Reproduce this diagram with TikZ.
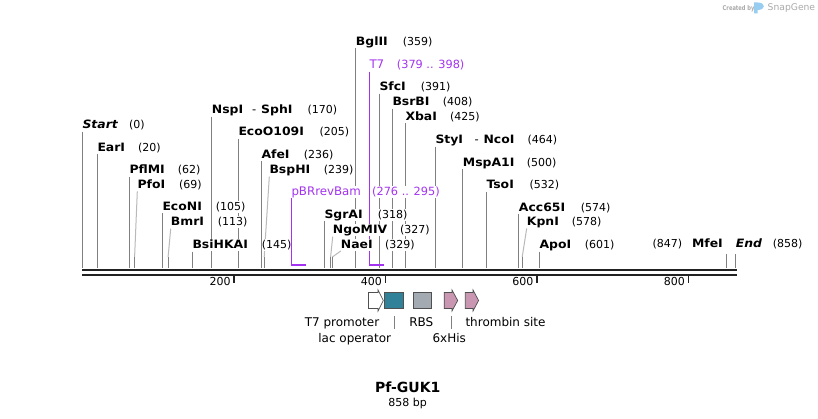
\documentclass[tikz,border=0pt]{standalone}
\usepackage{fontspec}
\setmainfont{DejaVu Sans}
\newfontfamily\enzfont[FakeStretch=1.08]{DejaVu Sans Bold}
\newfontfamily\enzitfont[FakeStretch=1.08]{DejaVu Sans Bold Oblique}
\newfontfamily\wmfont[FakeStretch=0.78]{DejaVu Sans Bold}
\definecolor{sitegray}{RGB}{128,128,128}
\definecolor{slantgray}{RGB}{185,185,185}
\definecolor{bbcol}{RGB}{34,34,34}
\definecolor{primercol}{RGB}{163,51,240}
\definecolor{lacteal}{RGB}{49,130,153}
\definecolor{rbsgray}{RGB}{163,170,178}
\definecolor{hispink}{RGB}{201,151,177}
\definecolor{featedge}{RGB}{80,80,80}
\definecolor{wmgray}{RGB}{170,170,170}
\definecolor{iconblue}{RGB}{150,205,240}
\pgfdeclarelayer{bglines}
\pgfsetlayers{bglines,main}
\newcommand\enzsite[7]{%
  \node[enz] (#1) at (#2,#3+4) {#4};
  \node[num] (#1n) at (#5,#3+4) {#6};
  \coordinate (#1p) at (#7,268.5);
  \begin{pgfonlayer}{bglines}
  \draw[siteline] (#1.south west) -- (#1p);
  \end{pgfonlayer}
}
\newcommand\enzslant[7]{%
  \node[enz] (#1) at (#2,#3+4) {#4};
  \node[num] (#1n) at (#5,#3+4) {#6};
  \coordinate (#1p) at (#7,268.5);
  \coordinate (#1k) at (#7,257);
  \begin{pgfonlayer}{bglines}
  \draw[slantline] (#1.south west) -- (#1k);
  \draw[siteline] (#1k) -- (#1p);
  \end{pgfonlayer}
}
\begin{document}
\begin{tikzpicture}[x=1pt,y=-1pt,
  lab/.style={anchor=base west, inner xsep=0pt, inner ysep=1pt, text height=8.5pt, text depth=1.5pt, fill=white},
  enz/.style={lab, font=\fontsize{11.5}{13}\selectfont\enzfont},
  enzit/.style={lab, font=\fontsize{11.5}{13}\selectfont\enzitfont},
  num/.style={lab, font=\fontsize{11}{13}\selectfont},
  prim/.style={lab, font=\fontsize{11.8}{13}\selectfont, text=primercol},
  primnum/.style={lab, font=\fontsize{11.3}{13}\selectfont, text=primercol},
  siteline/.style={draw=sitegray, line width=1pt},
  slantline/.style={draw=slantgray, line width=1pt},
  primline/.style={draw=primercol, line width=1pt},
  primbar/.style={draw=primercol, line width=2.2pt},
  backbone/.style={draw=bbcol, line width=2.7pt},
  tick/.style={draw=bbcol, line width=1.7pt},
  ticklab/.style={font=\fontsize{11}{13}\selectfont, anchor=base east, inner sep=0pt},
  feat/.style={draw=featedge, line width=0.7pt},
  featlab/.style={font=\fontsize{12}{14}\selectfont, anchor=base, inner sep=0pt},
  featline/.style={draw=sitegray, line width=0.8pt}
]
\begin{pgfonlayer}{bglines}
\fill[white] (0,0) rectangle (818,419);
\end{pgfonlayer}
\useasboundingbox (0,0) rectangle (818,419);

% watermark
\node[font=\fontsize{6.6}{7}\selectfont\wmfont, text=wmgray, anchor=base west, inner sep=0pt] (wm1) at (722.5,10.5) {Created by};
\fill[iconblue] (754,2.5) -- (754,13.5) -- (757.5,13.5) -- (757.5,10) .. controls (766,10) and (766,2.5) .. (757.5,2.5) -- cycle;
\node[font=\fontsize{9.2}{10}\selectfont, text=wmgray, anchor=base west, inner sep=0pt] (wm2) at (767.5,11) {SnapGene};

% backbone
\coordinate (bbL1) at (82,270);
\coordinate (bbR1) at (736.5,270);
\coordinate (bbL2) at (82,275);
\coordinate (bbR2) at (736.5,275);
\draw[backbone] (bbL1) -- (bbR1);
\draw[backbone] (bbL2) -- (bbR2);

% ticks
\foreach \tx/\tl in {234.3/200, 385.6/400, 537/600, 688.5/800}{
  \draw[tick] (\tx,276.3) -- (\tx,283);
  \node[ticklab] (tl\tl) at (\tx-3.5,285.7) {\tl};
}

% enzymes
\node[enzit] (Start) at (82.3,129) {Start};
\node[num] (Startn) at (129,129) {(0)};
\coordinate (Startp) at (82.3,268.5);
\begin{pgfonlayer}{bglines}
\draw[siteline] (Start.south west) -- (Startp);
\end{pgfonlayer}

\enzsite{EarI}{97.3}{147.3}{EarI}{138}{(20)}{97.3}
\enzsite{PflMI}{129.3}{170}{PflMI}{177.7}{(62)}{129.3}
\enzslant{PfoI}{137.3}{184.7}{PfoI}{179}{(69)}{134.6}
\enzsite{EcoNI}{162.3}{206.7}{EcoNI}{215.7}{(105)}{162.3}
\enzslant{BmrI}{170.7}{222}{BmrI}{217.7}{(113)}{168.1}
\enzsite{BsiHKAI}{192.3}{245}{BsiHKAI}{261.7}{(145)}{192.3}

\enzsite{NspI}{211.7}{110}{NspI}{307.3}{(170)}{211.7}
\node[num, font=\fontsize{11.5}{13}\selectfont] (NspIdash) at (252,114) {-};
\node[enz] (SphI) at (261,114) {SphI};

\enzsite{EcoOI}{238.3}{132}{EcoO109I}{319.3}{(205)}{238.3}
\enzsite{AfeI}{261.3}{154.3}{AfeI}{303.7}{(236)}{261.3}
\enzslant{BspHI}{269.3}{170}{BspHI}{323.7}{(239)}{264.2}
\enzsite{SgrAI}{324.3}{214.3}{SgrAI}{377.7}{(318)}{324.3}
\enzslant{NgoMIV}{332.7}{230}{NgoMIV}{400}{(327)}{330.6}
\enzslant{NaeI}{340.7}{244.3}{NaeI}{385}{(329)}{332.4}
\enzsite{BglII}{355.7}{41.7}{BglII}{402.7}{(359)}{355.7}
\enzsite{SfcI}{379.3}{87}{SfcI}{420.7}{(391)}{379.3}
\enzsite{BsrBI}{392.3}{102}{BsrBI}{442.7}{(408)}{392.3}
\enzsite{XbaI}{405.3}{116.7}{XbaI}{450}{(425)}{405.3}

\enzsite{StyI}{435.3}{140}{StyI}{527.3}{(464)}{435.3}
\node[num, font=\fontsize{11.5}{13}\selectfont] (StyIdash) at (474.3,144) {-};
\node[enz] (NcoI) at (483.3,144) {NcoI};

\enzsite{MspAI}{462.7}{162.3}{MspA1I}{526.7}{(500)}{462.7}
\enzsite{TsoI}{486.3}{185}{TsoI}{529.3}{(532)}{486.3}
\enzsite{AccI}{518.7}{207.3}{Acc65I}{580.7}{(574)}{518.7}
\enzslant{KpnI}{526.7}{221.7}{KpnI}{571.7}{(578)}{522.2}
\enzsite{ApoI}{539.3}{245}{ApoI}{584.7}{(601)}{539.3}

% MfeI (label to the left of its line)
\node[num] (MfeIn) at (652.3,247.7) {(847)};
\node[enz, anchor=base east] (MfeI) at (723,247.7) {MfeI};
\coordinate (MfeIt) at (726.7,254.3);
\coordinate (MfeIp) at (726.7,268.5);
\draw[siteline] (MfeIt) -- (MfeIp);

% End
\node[enzit] (End) at (735.7,247.7) {End};
\node[num] (Endn) at (772.7,247.7) {(858)};
\coordinate (Endt) at (735.7,254.3);
\coordinate (Endp) at (735.7,268.5);
\draw[siteline] (Endt) -- (Endp);

% primers
\node[prim] (pBR) at (291.3,195.7) {pBRrevBam};
\node[primnum] (pBRn) at (372,195.7) {(276 .. 295)};
\coordinate (pBRa) at (291.3,265);
\coordinate (pBRb) at (306,265);
\begin{pgfonlayer}{bglines}
\draw[primline] (pBR.south west) -- ([yshift=0.5pt]pBRa);
\end{pgfonlayer}
\draw[primbar] ([xshift=-0.5pt]pBRa) -- (pBRb);

\node[prim] (Tsev) at (369.3,69) {T7};
\node[primnum] (Tsevn) at (396.7,69) {(379 .. 398)};
\coordinate (Tseva) at (369.3,265);
\coordinate (Tsevb) at (384,265);
\begin{pgfonlayer}{bglines}
\draw[primline] (Tsev.south west) -- ([yshift=0.5pt]Tseva);
\end{pgfonlayer}
\draw[primbar] ([xshift=-0.5pt]Tseva) -- (Tsevb);

% features
\draw[feat, fill=white] (368.5,292.5) -- (378,292.5) -- (378,290) -- (383.3,300.5) -- (378,311) -- (378,308.5) -- (368.5,308.5) -- cycle;
\node[feat, fill=lacteal, minimum width=18.6pt, minimum height=16pt, inner sep=0pt] (lacop) at (393.8,300.5) {};
\node[feat, fill=rbsgray, minimum width=18.4pt, minimum height=16pt, inner sep=0pt] (rbs) at (422.5,300.5) {};
\draw[feat, fill=hispink] (444.2,292.5) -- (452,292.5) -- (452,290) -- (457.7,300.5) -- (452,311) -- (452,308.5) -- (444.2,308.5) -- cycle;
\draw[feat, fill=hispink] (465.3,292.5) -- (473,292.5) -- (473,290) -- (478.6,300.5) -- (473,311) -- (473,308.5) -- (465.3,308.5) -- cycle;

\node[featlab] (lT7) at (342,326) {T7 promoter};
\node[featlab] (llac) at (354.7,342.3) {lac operator};
\node[featlab] (lrbs) at (421.3,326) {RBS};
\node[featlab] (lhis) at (449.2,342.3) {6xHis};
\node[featlab, anchor=base west] (lthr) at (465.3,326) {thrombin site};
\coordinate (lacA) at (394,316);
\coordinate (lacB) at (394,329.3);
\draw[featline] (lacA) -- (lacB);
\coordinate (hisA) at (451.3,316);
\coordinate (hisB) at (451.3,329.3);
\draw[featline] (hisA) -- (hisB);

% title
\node[font=\fontsize{14}{16}\selectfont\bfseries, inner sep=0pt] (title) at (407.7,387.3) {Pf-GUK1};
\node[font=\fontsize{11}{13}\selectfont, inner sep=0pt] (len) at (407.7,403.3) {858 bp};
\end{tikzpicture}
\end{document}
